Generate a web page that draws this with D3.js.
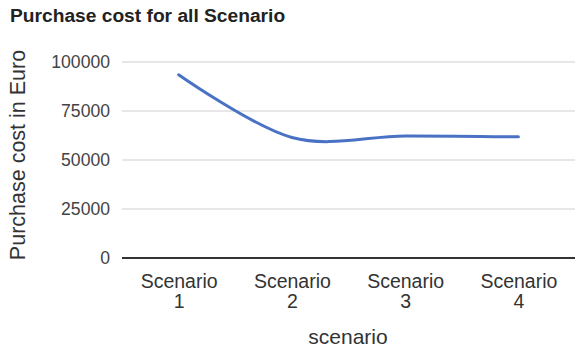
<!DOCTYPE html>
<html>
<head>
<meta charset="utf-8">
<script src="https://cdn.jsdelivr.net/npm/d3@7"></script>
<style>
  html, body { margin: 0; padding: 0; background: #fff; }
  svg { display: block; font-family: "Liberation Sans", Arial, sans-serif; }
</style>
</head>
<body>
<svg id="chart" width="576" height="351"></svg>
<script>
// Purchase cost per scenario
const categories = ["Scenario 1", "Scenario 2", "Scenario 3", "Scenario 4"];
const costs = [93500, 61500, 62300, 61800];
const yTicks = [0, 25000, 50000, 75000, 100000];

const svg = d3.select("#chart");
const margin = { top: 62, right: 1, bottom: 93, left: 122 };
const width = 576 - margin.left - margin.right;
const height = 351 - margin.top - margin.bottom;

const g = svg.append("g").attr("transform", `translate(${margin.left},${margin.top})`);

const x = d3.scalePoint().domain(categories).range([0, width]).padding(0.5);
const y = d3.scaleLinear().domain([0, 100000]).range([height, 0]);

// Horizontal gridlines
g.selectAll("line.grid")
  .data(yTicks.filter(t => t !== 0))
  .join("line")
  .attr("class", "grid")
  .attr("x1", 0).attr("x2", width)
  .attr("y1", d => y(d)).attr("y2", d => y(d))
  .attr("stroke", "#cfcfcf").attr("stroke-width", 1.2);

// Y axis labels
const yAxis = d3.axisLeft(y).tickValues(yTicks).tickSize(0).tickPadding(12).tickFormat(d3.format("d"));
g.append("g").call(yAxis)
  .call(a => a.select(".domain").remove())
  .selectAll("text")
  .attr("font-size", 17.6).attr("fill", "#444").attr("font-family", "Liberation Sans, Arial, sans-serif");

// Baseline
g.append("line")
  .attr("x1", 0).attr("x2", width)
  .attr("y1", y(0)).attr("y2", y(0))
  .attr("stroke", "#333").attr("stroke-width", 2);

// X axis labels (two lines)
const xAxis = d3.axisBottom(x).tickSize(0).tickFormat("");
const xg = g.append("g").attr("transform", `translate(0,${height})`).call(xAxis);
xg.select(".domain").remove();
xg.selectAll(".tick").append("text")
  .attr("text-anchor", "middle")
  .attr("fill", "#333")
  .attr("font-size", 19.5)
  .each(function(d) {
    const parts = d.split(" ");
    const t = d3.select(this);
    t.append("tspan").attr("x", 0).attr("y", 30).text(parts[0]);
    t.append("tspan").attr("x", 0).attr("y", 50).text(parts[1]);
  });

// Line
const line = d3.line()
  .x((d, i) => x(categories[i]))
  .y(d => y(d))
  .curve(d3.curveCardinal.tension(0));

g.append("path")
  .datum(costs)
  .attr("fill", "none")
  .attr("stroke", "#4a72c4")
  .attr("stroke-width", 3)
  .attr("stroke-linecap", "round")
  .attr("d", line);

// Title
svg.append("text")
  .attr("x", 10).attr("y", 22)
  .attr("font-size", 19.2).attr("font-weight", "bold").attr("fill", "#222")
  .text("Purchase cost for all Scenario");

// Axis titles
svg.append("text")
  .attr("x", 348).attr("y", 344)
  .attr("text-anchor", "middle").attr("font-size", 21).attr("fill", "#333")
  .text("scenario");

svg.append("text")
  .attr("transform", `translate(25,${(45 + 265) / 2}) rotate(-90)`)
  .attr("text-anchor", "middle").attr("font-size", 21.5).attr("fill", "#333")
  .text("Purchase cost in Euro");
</script>
</body>
</html>
